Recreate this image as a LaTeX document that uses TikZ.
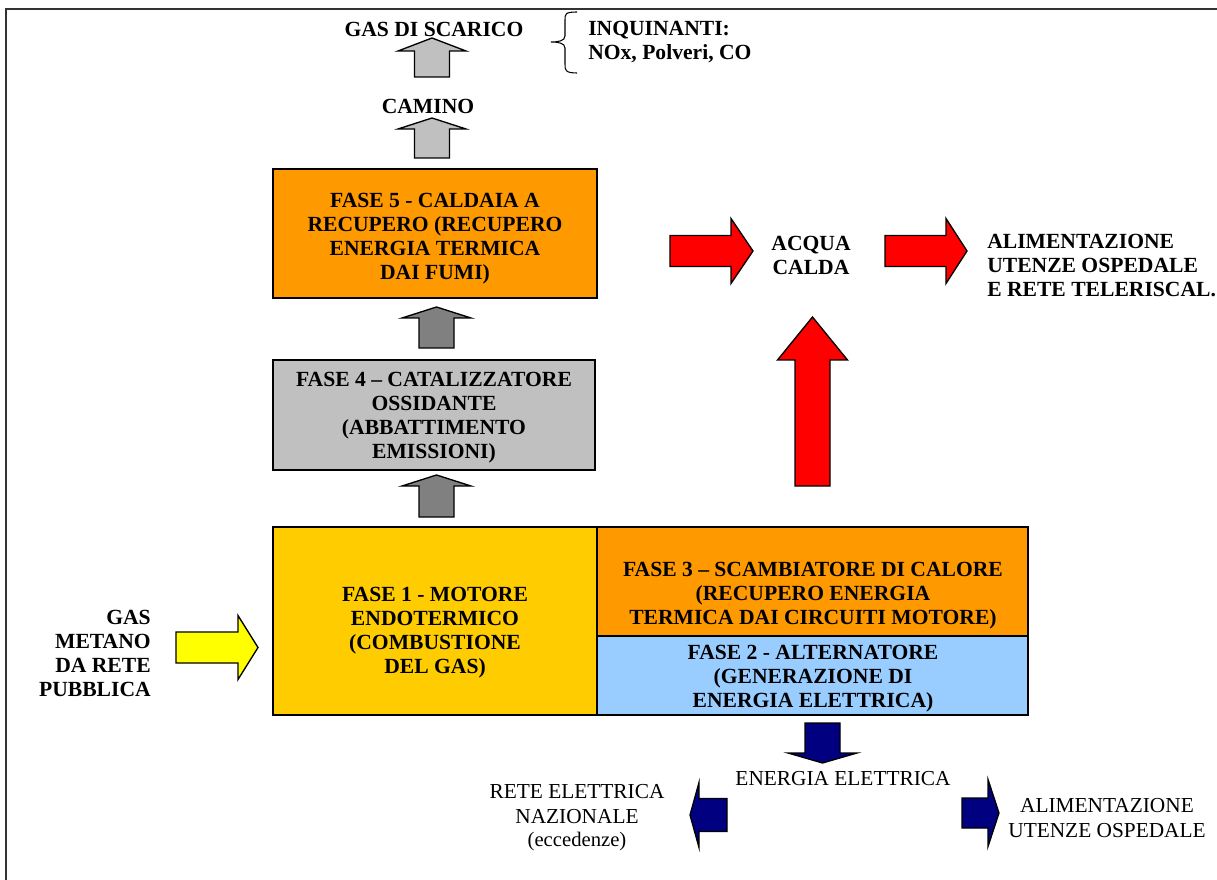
\documentclass[tikz,border=0pt]{standalone}
\usepackage{fontspec}
\setmainfont{Liberation Serif}
\definecolor{orangeF}{HTML}{FF9900}
\definecolor{goldF}{HTML}{FFCC00}
\definecolor{grayF}{HTML}{C0C0C0}
\definecolor{darkgrayF}{HTML}{808080}
\definecolor{blueF}{HTML}{99CCFF}
\definecolor{navyF}{HTML}{000080}
\definecolor{redF}{HTML}{FF0000}
\definecolor{yellowF}{HTML}{FFFF00}
% up arrow: fill, cx, tip y, head base y, bottom y, head half width, shaft half width
\newcommand{\myUpArrow}[7]{%
  \filldraw[arrowline, fill=#1] (#2-#7,#5) -- (#2-#7,#4) -- (#2-#6,#4) -- (#2,#3) -- (#2+#6,#4) -- (#2+#7,#4) -- (#2+#7,#5) -- cycle;}
% down arrow
\newcommand{\myDownArrow}[7]{%
  \filldraw[arrowline, fill=#1] (#2-#7,#5) -- (#2-#7,#4) -- (#2-#6,#4) -- (#2,#3) -- (#2+#6,#4) -- (#2+#7,#4) -- (#2+#7,#5) -- cycle;}
% horizontal arrow: fill, cy, tip x, head base x, tail x, head half height, shaft half height
\newcommand{\myHArrow}[7]{%
  \filldraw[arrowline, fill=#1] (#5,#2-#7) -- (#4,#2-#7) -- (#4,#2-#6) -- (#3,#2) -- (#4,#2+#6) -- (#4,#2+#7) -- (#5,#2+#7) -- cycle;}
\tikzset{
  arrowline/.style={draw=black, line width=1pt, line join=miter},
  phase/.style={draw=black, line width=1.1pt, inner sep=0pt, outer sep=0pt},
  btxt/.style={font=\bfseries\fontsize{16.2pt}{18pt}\selectfont, align=center, inner sep=0pt},
  ntxt/.style={font=\fontsize{16pt}{18.5pt}\selectfont, align=center, inner sep=0pt},
}
\begin{document}
\begin{tikzpicture}[x=0.75pt, y=-0.75pt]
\useasboundingbox (0,0) rectangle (1217,880);
% frame
\draw[line width=1.6pt, draw=black!80] (6,890) -- (6,9) -- (1230,9);

% phase boxes
\node[phase, fill=orangeF, minimum width=243pt, minimum height=96.75pt] (f5) at (435,233.5) {};
\node[btxt] (f5t) at (435,239) {FASE 5 - CALDAIA A\\RECUPERO (RECUPERO\\ENERGIA TERMICA\\DAI FUMI)};
\node[phase, fill=grayF, minimum width=241.5pt, minimum height=82.5pt] (f4) at (434,415) {};
\node[btxt] (f4t) at (434,418) {FASE 4 -- CATALIZZATORE\\OSSIDANTE\\(ABBATTIMENTO\\EMISSIONI)};
\node[phase, fill=goldF, minimum width=243pt, minimum height=141pt] (f1) at (435,621) {};
\node[btxt] (f1t) at (435,633) {FASE 1 - MOTORE\\ENDOTERMICO\\(COMBUSTIONE\\DEL GAS)};
\node[phase, fill=orangeF, minimum width=323.25pt, minimum height=81.75pt] (f3) at (812.5,581.5) {};
\node[btxt] (f3t) at (813,596) {FASE 3 -- SCAMBIATORE DI CALORE\\(RECUPERO ENERGIA\\TERMICA DAI CIRCUITI MOTORE)};
\node[phase, fill=blueF, minimum width=323.25pt, minimum height=59.25pt] (f2) at (812.5,675.5) {};
\node[btxt] (f2t) at (813,679) {FASE 2 - ALTERNATORE\\(GENERAZIONE DI\\ENERGIA ELETTRICA)};

% top labels
\node[btxt] (gas) at (434,29) {GAS DI SCARICO};
\node[btxt] (cam) at (428,106) {CAMINO};
\node[btxt, anchor=west, align=left] (inq) at (588,42) {INQUINANTI:\\NOx, Polveri, CO};
\draw[line width=0.8pt] (577,12) .. controls (565,12) and (565,14) .. (565,20) -- (565,36) .. controls (565,41) and (558,42) .. (551,42)
  .. controls (558,42) and (565,43) .. (565,48) -- (565,64) .. controls (565,70) and (565,73) .. (577,73);

% grey up arrows
\myUpArrow{grayF}{432}{38}{51}{77}{34}{17.5}
\myUpArrow{grayF}{432}{118}{129}{158}{34}{17.5}
\myUpArrow{darkgrayF}{436.5}{307}{318}{348}{34.5}{17.5}
\myUpArrow{darkgrayF}{436.5}{475}{486}{517}{34.5}{17.5}

% gas metano
\node[btxt, anchor=east, align=right] (metano) at (151,653) {GAS\\METANO\\DA RETE\\PUBBLICA};
\myHArrow{yellowF}{647.5}{258}{238}{176}{32}{15.5}

% hot water
\myHArrow{redF}{251}{753}{731}{670}{32.5}{15.5}
\node[btxt] (acqua) at (811,255) {ACQUA\\CALDA};
\myHArrow{redF}{251}{967}{946}{885}{32.5}{15.5}
\node[btxt, anchor=west, align=left] (alim1) at (987,266) {ALIMENTAZIONE\\UTENZE OSPEDALE\\E RETE TELERISCAL.};
\myUpArrow{redF}{812.5}{317}{360}{486}{35}{17.5}

% electricity
\myDownArrow{navyF}{822.5}{763}{753}{723}{34.5}{17.5}
\node[ntxt] (ee) at (843,779) {ENERGIA ELETTRICA};
\myHArrow{navyF}{815}{690}{699}{727}{32.5}{16.5}
\myHArrow{navyF}{813}{999}{988}{962}{33.5}{15}
\node[ntxt] (rete) at (577,804) {RETE ELETTRICA\\NAZIONALE};
\node[ntxt, font=\fontsize{15.5pt}{16pt}\selectfont] (ecc) at (577,842) {(eccedenze)};
\node[ntxt] (alim2) at (1107,818) {ALIMENTAZIONE\\UTENZE OSPEDALE};
\end{tikzpicture}
\end{document}
